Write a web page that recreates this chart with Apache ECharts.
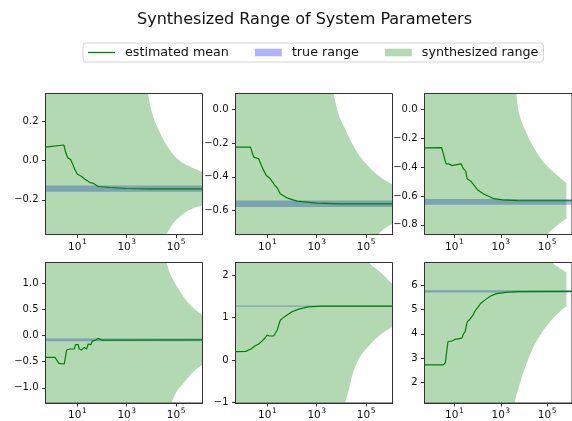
<!DOCTYPE html>
<html><head><meta charset="utf-8">
<script src="https://cdn.jsdelivr.net/npm/echarts@6/dist/echarts.min.js"></script>
<style>html,body{margin:0;padding:0;background:#fff}#c{width:572px;height:421px}</style>
</head><body><div id="c"></div>
<script>
// ---------- data ----------
const TITLE = 'Synthesized Range of System Parameters';
const LEGEND_NAMES = ['estimated mean', 'true range', 'synthesized range'];
const X_MIN = 0.513, X_MAX = 1174898;
const X_TICKS = [10, 1000, 100000];
const TRUE_X = [0.001, 2e6];

// subplot 1
const mean1X = [0.513, 2.86, 3.36, 4.05, 5.35, 6.44, 7.98, 9.89, 14.9, 20.2, 25.1, 32.2, 43.8, 69.7, 207, 977, 8511, 1.2e6];
const mean1Y = [0.068, 0.079, 0.042, 0.014, 0.005, -0.017, -0.047, -0.068, -0.081, -0.095, -0.102, -0.112, -0.115, -0.132, -0.137, -0.142, -0.144, -0.144];
const true1 = [-0.158, -0.127];
const up1X = [0.001, 5012, 7244, 10965, 20417, 46774, 138038, 416869, 1.23e6];
const up1Y = [3.0, 0.45, 0.341, 0.237, 0.153, 0.068, 0.0, -0.034, -0.059];
const lo1X = [0.001, 28184, 40738, 74131, 162181, 416869, 1.23e6];
const lo1Y = [-3.0, -0.42, -0.376, -0.322, -0.28, -0.246, -0.229];
const yRange1 = [-0.376, 0.341];
const yTicks1 = [-0.2, 0, 0.2];

// subplot 2
const mean2X = [0.513, 2.07, 2.82, 4.47, 5.75, 7.08, 9.12, 13.2, 19.1, 26.3, 33.1, 61.7, 158, 1000, 8913, 1.2e6];
const mean2Y = [-0.224, -0.224, -0.283, -0.293, -0.333, -0.362, -0.392, -0.412, -0.446, -0.471, -0.501, -0.525, -0.545, -0.557, -0.561, -0.561];
const true2 = [-0.580, -0.541];
const up2X = [0.001, 3162, 4786, 7586, 15136, 33113, 100000, 371535, 1.23e6];
const up2Y = [3.0, 0.2, 0.095, -0.026, -0.125, -0.224, -0.323, -0.402, -0.447];
const lo2X = [0.001, 158489, 295000, 602560, 1.23e6];
const lo2Y = [-3.0, -0.79, -0.745, -0.704, -0.679];
const yRange2 = [-0.743, 0.095];
const yTicks2 = [-0.6, -0.4, -0.2, 0];

// subplot 3
const mean3X = [0.513, 2.82, 3.39, 4.37, 5.62, 8.13, 11.0, 19.5, 24.5, 30.2, 35.5, 52.5, 72.4, 97.7, 182, 457, 1175, 5500, 1.2e6];
const mean3Y = [-0.266, -0.264, -0.275, -0.377, -0.377, -0.389, -0.384, -0.377, -0.412, -0.424, -0.481, -0.5, -0.528, -0.556, -0.586, -0.616, -0.627, -0.632, -0.633];
const true3 = [-0.660, -0.620];
const up3X = [0.001, 3162, 4571, 6166, 11482, 26303, 81283, 489779, 676083];
const up3Y = [3.0, 0.2, 0.111, -0.030, -0.146, -0.262, -0.377, -0.493, -0.51];
const lo3X = [0.001, 63096, 100000, 218776, 489779, 676083];
const lo3Y = [-3.0, -0.92, -0.868, -0.817, -0.771, -0.757];
const yRange3 = [-0.867, 0.111];
const yTicks3 = [-0.8, -0.6, -0.4, -0.2, 0];

// subplot 4
const mean4X = [0.513, 1.24, 1.80, 2.95, 3.69, 5.01, 5.88, 7.45, 8.5, 10.8, 11.9, 14.8, 19.0, 23.7, 27.5, 35.3, 39.8, 47.9, 54.6, 69.6, 95.3, 1.2e6];
const mean4Y = [-0.416, -0.416, -0.530, -0.543, -0.274, -0.255, -0.287, -0.255, -0.172, -0.172, -0.255, -0.274, -0.224, -0.255, -0.159, -0.172, -0.109, -0.128, -0.083, -0.051, -0.083, -0.08];
const true4 = [-0.107, -0.055];
const up4X = [0.001, 28184, 40738, 54954, 74131, 190546, 478630, 1.23e6];
const up4Y = [10, 1.65, 1.41, 1.213, 1.086, 0.766, 0.542, 0.397];
const lo4X = [0.001, 39811, 64565, 102329, 190546, 478630, 1.23e6];
const lo4Y = [-10, -1.6, -1.30, -1.086, -0.925, -0.703, -0.542];
const yRange4 = [-1.293, 1.408];
const yTicks4 = [-1.0, -0.5, 0, 0.5, 1.0];

// subplot 5
const mean5X = [0.513, 1.32, 2.09, 3.09, 4.47, 5.75, 6.76, 7.94, 9.77, 12.3, 14.8, 18.2, 21.4, 25.1, 28.8, 33.9, 45.7, 63.1, 100, 186, 468, 1622, 1.2e6];
const mean5Y = [0.20, 0.205, 0.256, 0.334, 0.381, 0.435, 0.475, 0.515, 0.592, 0.569, 0.616, 0.569, 0.569, 0.71, 0.827, 0.945, 1.008, 1.062, 1.14, 1.203, 1.257, 1.275, 1.275];
const true5 = [1.26, 1.29];
const up5X = [0.001, 79433, 125893, 199526, 371535, 1.23e6];
const up5Y = [10, 2.45, 2.31, 2.197, 2.08, 1.78];
const lo5X = [0.001, 10000, 14125, 20893, 30903, 57544, 107152, 371535, 1.23e6];
const lo5Y = [-10, -1.5, -1.02, -0.66, -0.27, 0.082, 0.28, 0.592, 0.787];
const yRange5 = [-1.014, 2.305];
const yTicks5 = [-1, 0, 1, 2];

// subplot 6
const mean6X = [0.513, 3.31, 4.07, 5.25, 8.32, 10.7, 20.9, 24.5, 28.8, 33.1, 35.5, 45.7, 63.1, 77.6, 100, 135, 219, 347, 646, 1622, 5623, 1.2e6];
const mean6Y = [2.71, 2.71, 2.81, 3.67, 3.71, 3.77, 3.82, 3.99, 4.08, 4.15, 4.49, 4.59, 4.77, 4.94, 5.08, 5.25, 5.41, 5.55, 5.66, 5.71, 5.74, 5.75];
const true6 = [5.71, 5.80];
const up6X = [0.001, 100000, 162181, 489779, 676083];
const up6Y = [20, 7.3, 6.95, 6.62, 6.53];
const lo6X = [0.001, 2818, 3890, 5248, 9772, 18197, 33884, 117490, 489779, 676083];
const lo6Y = [-20, 0.5, 1.14, 1.61, 2.44, 3.12, 3.67, 4.43, 5.04, 5.12];
const yRange6 = [1.138, 6.945];
const yTicks6 = [2, 3, 4, 5, 6];

const PLOTS = [
  {mx: mean1X, my: mean1Y, tr: true1, ux: up1X, uy: up1Y, lx: lo1X, ly: lo1Y, yr: yRange1, yt: yTicks1, dec: 1},
  {mx: mean2X, my: mean2Y, tr: true2, ux: up2X, uy: up2Y, lx: lo2X, ly: lo2Y, yr: yRange2, yt: yTicks2, dec: 1},
  {mx: mean3X, my: mean3Y, tr: true3, ux: up3X, uy: up3Y, lx: lo3X, ly: lo3Y, yr: yRange3, yt: yTicks3, dec: 1},
  {mx: mean4X, my: mean4Y, tr: true4, ux: up4X, uy: up4Y, lx: lo4X, ly: lo4Y, yr: yRange4, yt: yTicks4, dec: 1},
  {mx: mean5X, my: mean5Y, tr: true5, ux: up5X, uy: up5Y, lx: lo5X, ly: lo5Y, yr: yRange5, yt: yTicks5, dec: 0},
  {mx: mean6X, my: mean6Y, tr: true6, ux: up6X, uy: up6Y, lx: lo6X, ly: lo6Y, yr: yRange6, yt: yTicks6, dec: 0}
];

// ---------- layout / style ----------
const GRID_LEFT = [45.5, 235.5, 424.5];
const GRID_TOP = [93.5, 262.5];
const GRID_W = 157, GRID_H = 141;
const FONT = 'DejaVu Sans';
const LINE_GREEN = '#008000';
const FILL_BLUE = 'rgba(0,0,255,0.3)';
const FILL_GREEN = 'rgba(0,128,0,0.3)';
const AXIS_COLOR = '#333';

function bandData(xu, yu, xl, yl) {
  const d = [];
  xu.forEach((x, i) => d.push([x, yu[i], 0]));
  xl.forEach((x, i) => d.push([x, yl[i], 1]));
  return d;
}
function bandSeries(name, k, data, fill, z, smooth) {
  return {
    type: 'custom', name, xAxisIndex: k, yAxisIndex: k, z, silent: true, data,
    encode: {x: 0, y: 1},
    renderItem(params, api) {
      if (params.dataIndexInside !== 0) return;
      const up = [], lo = [];
      for (let i = 0; i < params.dataInsideLength; i++) {
        const pt = api.coord([api.value(0, i), api.value(1, i)]);
        if (api.value(2, i) === 0) up.push(pt); else lo.push(pt);
      }
      const cs = params.coordSys;
      // upper boundary right->left, then lower boundary left->right; closing edge is straight
      return {
        type: 'polyline',
        shape: {points: up.reverse().concat(lo), smooth: smooth, smoothConstraint: false},
        style: {fill: fill, stroke: null},
        clipPath: {type: 'rect', shape: {x: cs.x + 0.5, y: cs.y + 0.5, width: cs.width - 1, height: cs.height - 1}}
      };
    }
  };
}

const grids = [], xAxes = [], yAxes = [], series = [];
PLOTS.forEach((p, k) => {
  const col = k % 3, row = Math.floor(k / 3);
  grids.push({left: GRID_LEFT[col], top: GRID_TOP[row], width: GRID_W, height: GRID_H,
    show: true, borderColor: AXIS_COLOR, borderWidth: 1, backgroundColor: 'transparent'});
  xAxes.push({
    type: 'log', logBase: 10, gridIndex: k, min: X_MIN, max: X_MAX,
    splitLine: {show: false}, minorTick: {show: false}, minorSplitLine: {show: false},
    axisLine: {show: true, onZero: false, lineStyle: {color: AXIS_COLOR, width: 1}},
    axisTick: {show: true, length: 3.5, lineStyle: {color: AXIS_COLOR}, customValues: X_TICKS},
    axisLabel: {customValues: X_TICKS, margin: 4,
      formatter: v => '{b|10}{s|' + Math.round(Math.log10(v)) + '}',
      rich: {
        b: {fontFamily: FONT, fontSize: 10.5, color: '#111', lineHeight: 14, verticalAlign: 'bottom'},
        s: {fontFamily: FONT, fontSize: 7.5, color: '#111', lineHeight: 14, verticalAlign: 'top', padding: [0, 0, 0, 0.5]}
      }}
  });
  yAxes.push({
    type: 'value', gridIndex: k, min: p.yr[0], max: p.yr[1],
    splitLine: {show: false},
    axisLine: {show: true, onZero: false, lineStyle: {color: AXIS_COLOR, width: 1}},
    axisTick: {show: true, length: 3.5, lineStyle: {color: AXIS_COLOR}, customValues: p.yt},
    axisLabel: {customValues: p.yt, fontFamily: FONT, fontSize: 10, color: '#111', margin: 7,
      formatter: v => v.toFixed(p.dec).replace('-', '\u2212').replace(/^\u22120(\.0+)?$/, '0$1')}
  });
  series.push(bandSeries('true range', k, bandData(TRUE_X, [p.tr[1], p.tr[1]], TRUE_X, [p.tr[0], p.tr[0]]), FILL_BLUE, 1, 0));
  series.push(bandSeries('synthesized range', k, bandData(p.ux, p.uy, p.lx, p.ly), FILL_GREEN, 2, 0.4));
  series.push({
    type: 'line', name: 'estimated mean', xAxisIndex: k, yAxisIndex: k, z: 3, silent: true,
    data: p.mx.map((x, i) => [x, p.my[i]]),
    showSymbol: false, symbol: 'none', clip: true,
    lineStyle: {color: LINE_GREEN, width: 1.2}, itemStyle: {color: LINE_GREEN}
  });
});

const chart = echarts.init(document.getElementById('c'), null, {renderer: 'canvas'});
chart.setOption({
  animation: false,
  backgroundColor: '#fff',
  grid: grids, xAxis: xAxes, yAxis: yAxes, series,
  legend: {
    left: 83, top: 43, orient: 'horizontal', selectedMode: false,
    itemWidth: 27, itemHeight: 7.5, itemGap: 26, padding: [3, 5, 3, 5],
    borderColor: '#d3d3d3', borderWidth: 1, borderRadius: 3, backgroundColor: '#fff',
    textStyle: {fontFamily: FONT, fontSize: 12.7, color: '#111', padding: [0, 0, 0, 5]},
    data: [
      {name: LEGEND_NAMES[0], icon: 'path://M0,0H27V1.3H0Z', itemStyle: {color: LINE_GREEN}},
      {name: LEGEND_NAMES[1], icon: 'rect', itemStyle: {color: FILL_BLUE}},
      {name: LEGEND_NAMES[2], icon: 'rect', itemStyle: {color: FILL_GREEN}}
    ]
  },
  graphic: [{
    type: 'text', x: 304.5, y: 20, silent: true,
    style: {text: TITLE, fontFamily: FONT, fontSize: 16, fill: '#111', align: 'center', verticalAlign: 'middle'}
  }]
});
</script>
</body></html>
